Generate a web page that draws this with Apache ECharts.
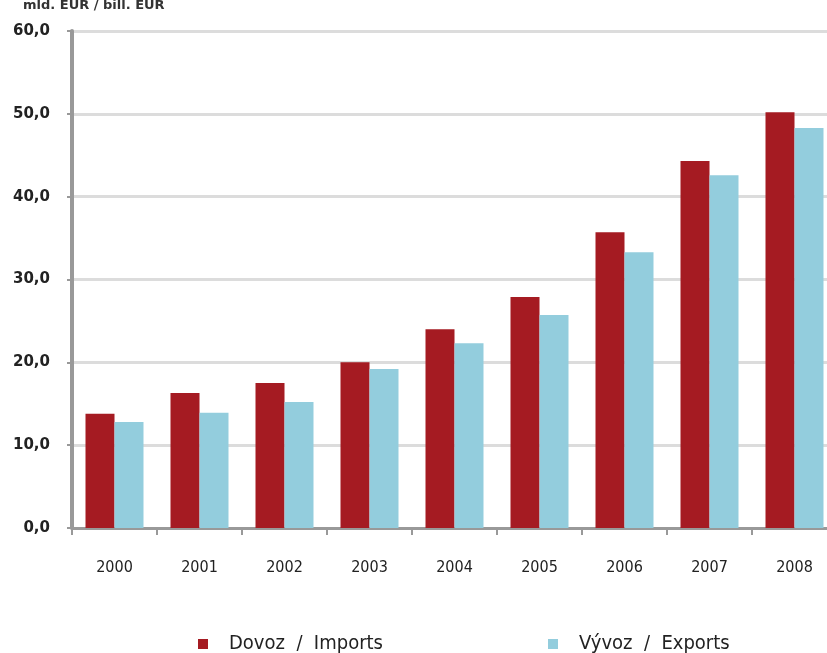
<!DOCTYPE html>
<html>
<head>
<meta charset="utf-8">
<script src="https://cdn.jsdelivr.net/npm/echarts@6/dist/echarts.min.js"></script>
<style>
  html, body { margin: 0; padding: 0; background: #fff; }
  #chart { width: 827px; height: 653px; }
</style>
</head>
<body>
<div id="chart"></div>
<script>
// roky a hodnoty (mld. EUR)
const years = ["2000", "2001", "2002", "2003", "2004", "2005", "2006", "2007", "2008"];
const imports = [13.8, 16.3, 17.5, 20.0, 24.0, 27.9, 35.7, 44.3, 50.2];
const exports = [12.8, 13.9, 15.2, 19.2, 22.3, 25.7, 33.3, 42.6, 48.3];
const seriesNames = ["Dovoz  /  Imports", "Vývoz  /  Exports"];

(function () {
    let chart = echarts.init(document.querySelector("#chart"));

    const font = "'DejaVu Sans Condensed', 'Liberation Sans', sans-serif";

    // legenda – dve samostatne polozky
    function legendAt(name, left) {
        return {
            data: [name],
            left: left,
            top: 629,
            icon: "rect",
            itemWidth: 10,
            itemHeight: 10,
            textStyle: { fontSize: 20, color: "#222", fontFamily: font, padding: [0, 0, 0, 16] }
        };
    }

    let option = {
        animation: false,
        title: {
            text: "mld. EUR / bill. EUR",
            left: 18,
            top: -6,
            textStyle: { fontSize: 13, fontWeight: "bold", color: "#333", fontFamily: "'DejaVu Sans', sans-serif" }
        },
        grid: {
            left: 72,
            top: 31,
            bottom: 125,
            width: 765,
            outerBoundsMode: "none" // graf je vpravo orezany
        },
        legend: [legendAt(seriesNames[0], 193), legendAt(seriesNames[1], 543)],
        xAxis: {
            type: "category",
            data: years,
            axisLine: { lineStyle: { color: "#999", width: 3 } },
            axisTick: { show: true, length: 7, lineStyle: { color: "#999", width: 2 } },
            axisLabel: { color: "#222", fontSize: 16, margin: 32, fontFamily: font }
        },
        yAxis: {
            type: "value",
            min: 0,
            max: 60,
            interval: 10,
            axisLine: { show: true, lineStyle: { color: "#999", width: 4 } },
            axisTick: { show: true, length: 5, lineStyle: { color: "#999", width: 2 } },
            axisLabel: {
                color: "#222",
                fontSize: 15,
                fontWeight: "bold",
                margin: 22,
                fontFamily: "'DejaVu Sans', sans-serif",
                formatter: v => v.toFixed(1).replace(".", ",")
            },
            splitLine: { lineStyle: { color: "#dcdcdc", width: 3 } }
        },
        series: [
            {
                name: seriesNames[0],
                type: "bar",
                data: imports,
                barWidth: 29,
                barGap: "0%",
                itemStyle: { color: "#A51B22" }
            },
            {
                name: seriesNames[1],
                type: "bar",
                data: exports,
                barWidth: 29,
                itemStyle: { color: "#93CDDD" }
            }
        ]
    };

    chart.setOption(option);
})();
</script>
</body>
</html>
